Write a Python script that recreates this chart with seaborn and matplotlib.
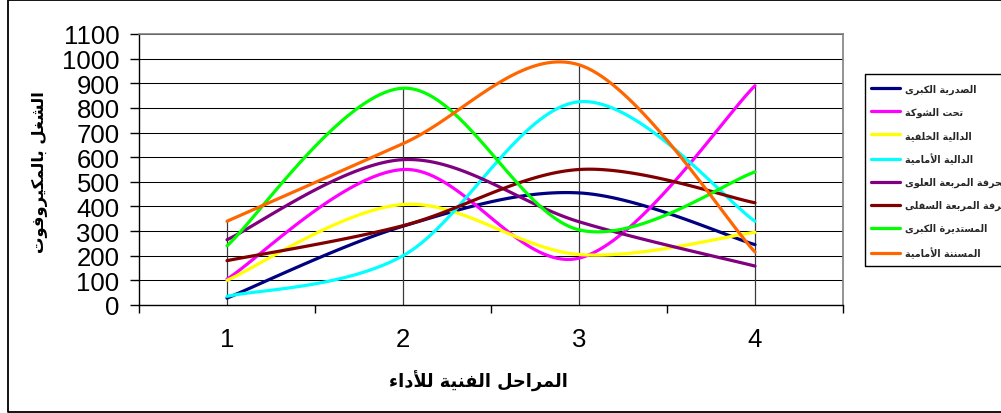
import numpy as np
import pandas as pd
import matplotlib
matplotlib.use("Agg")
import matplotlib.pyplot as plt
import seaborn as sns
from matplotlib.lines import Line2D
from matplotlib.patches import Rectangle

# ---------------- data ----------------
stages = [1, 2, 3, 4]
stage_labels = ["1", "2", "3", "4"]
y_ticks = [0, 100, 200, 300, 400, 500, 600, 700, 800, 900, 1000, 1100]

pectoralis_major = [28, 320, 455, 245]     # الصدرية الكبرى
infraspinatus = [105, 550, 190, 890]       # تحت الشوكة
posterior_deltoid = [100, 408, 205, 295]   # الدالية الخلفية
anterior_deltoid = [35, 200, 825, 340]     # الدالية الأمامية
upper_trapezius = [265, 590, 338, 158]     # المنحرفة المربعة العلوى
lower_trapezius = [180, 322, 550, 415]     # المنحرفة المربعة السفلى
teres_major = [240, 880, 305, 540]         # المستديرة الكبرى
serratus_anterior = [340, 655, 975, 215]   # المسننة الأمامية

series_names = [
    "الصدرية الكبرى",
    "تحت الشوكة",
    "الدالية الخلفية",
    "الدالية الأمامية",
    "المنحرفة المربعة العلوى",
    "المنحرفة المربعة السفلى",
    "المستديرة الكبرى",
    "المسننة الأمامية",
]
series_values = [pectoralis_major, infraspinatus, posterior_deltoid, anterior_deltoid,
                 upper_trapezius, lower_trapezius, teres_major, serratus_anterior]
series_colors = ["#000080", "#FF00FF", "#FFFF00", "#00FFFF",
                 "#800080", "#800000", "#00FF00", "#FF6600"]

x_title = "المراحل الفنية للأداء"
y_title = "الشغل بالمكيروفوت"

# ---------------- Arabic shaping (contextual forms + right-to-left) ----------------
FORMS = {
    '\u0621': ('\uFE80', None, None, None),
    '\u0623': ('\uFE83', '\uFE84', None, None),
    '\u0627': ('\uFE8D', '\uFE8E', None, None),
    '\u0628': ('\uFE8F', '\uFE90', '\uFE91', '\uFE92'),
    '\u0629': ('\uFE93', '\uFE94', None, None),
    '\u062A': ('\uFE95', '\uFE96', '\uFE97', '\uFE98'),
    '\u062D': ('\uFEA1', '\uFEA2', '\uFEA3', '\uFEA4'),
    '\u062E': ('\uFEA5', '\uFEA6', '\uFEA7', '\uFEA8'),
    '\u062F': ('\uFEA9', '\uFEAA', None, None),
    '\u0631': ('\uFEAD', '\uFEAE', None, None),
    '\u0633': ('\uFEB1', '\uFEB2', '\uFEB3', '\uFEB4'),
    '\u0634': ('\uFEB5', '\uFEB6', '\uFEB7', '\uFEB8'),
    '\u0635': ('\uFEB9', '\uFEBA', '\uFEBB', '\uFEBC'),
    '\u0639': ('\uFEC9', '\uFECA', '\uFECB', '\uFECC'),
    '\u063A': ('\uFECD', '\uFECE', '\uFECF', '\uFED0'),
    '\u0641': ('\uFED1', '\uFED2', '\uFED3', '\uFED4'),
    '\u0643': ('\uFED9', '\uFEDA', '\uFEDB', '\uFEDC'),
    '\u0644': ('\uFEDD', '\uFEDE', '\uFEDF', '\uFEE0'),
    '\u0645': ('\uFEE1', '\uFEE2', '\uFEE3', '\uFEE4'),
    '\u0646': ('\uFEE5', '\uFEE6', '\uFEE7', '\uFEE8'),
    '\u0647': ('\uFEE9', '\uFEEA', '\uFEEB', '\uFEEC'),
    '\u0648': ('\uFEED', '\uFEEE', None, None),
    '\u0649': ('\uFEEF', '\uFEF0', None, None),
    '\u064A': ('\uFEF1', '\uFEF2', '\uFEF3', '\uFEF4'),
}
LAM_ALEF = {'\u0627': ('\uFEFB', '\uFEFC'), '\u0623': ('\uFEF7', '\uFEF8')}


def shape_arabic(text):
    tokens = []
    i = 0
    while i < len(text):
        ch = text[i]
        if ch == '\u0644' and i + 1 < len(text) and text[i + 1] in LAM_ALEF:
            tokens.append(('LA', text[i + 1]))
            i += 2
        else:
            tokens.append(('C', ch))
            i += 1

    def joins_forward(tok):
        if tok is None or tok[0] == 'LA':
            return False
        f = FORMS.get(tok[1])
        return f is not None and f[2] is not None

    def joins_backward(tok):
        if tok is None:
            return False
        if tok[0] == 'LA':
            return True
        f = FORMS.get(tok[1])
        return f is not None and f[1] is not None

    out = []
    for k, tok in enumerate(tokens):
        prev = tokens[k - 1] if k > 0 else None
        nxt = tokens[k + 1] if k + 1 < len(tokens) else None
        jp = joins_forward(prev) and joins_backward(tok)
        jn = joins_forward(tok) and joins_backward(nxt)
        if tok[0] == 'LA':
            out.append(LAM_ALEF[tok[1]][1 if jp else 0])
            continue
        f = FORMS.get(tok[1])
        if f is None:
            out.append(tok[1])
        elif jp and jn:
            out.append(f[3])
        elif jp:
            out.append(f[1])
        elif jn:
            out.append(f[2])
        else:
            out.append(f[0])
    return ''.join(reversed(out))


# ---------------- smoothing (Bezier / Catmull-Rom through the points) ----------------
def smooth_curve(xs, ys, steps=40):
    pts = np.column_stack([xs, ys]).astype(float)
    n = len(pts)
    out = []
    for i in range(n - 1):
        p0 = pts[i - 1] if i > 0 else pts[i]
        p1 = pts[i]
        p2 = pts[i + 1]
        p3 = pts[i + 2] if i + 2 < n else pts[i + 1]
        c1 = p1 + (p2 - p0) / 6.0
        c2 = p2 - (p3 - p1) / 6.0
        t = np.linspace(0, 1, steps, endpoint=(i == n - 2))[:, None]
        seg = ((1 - t) ** 3) * p1 + 3 * ((1 - t) ** 2) * t * c1 + 3 * (1 - t) * t ** 2 * c2 + t ** 3 * p2
        out.append(seg)
    out = np.vstack(out)
    return out[:, 0], out[:, 1]


frames = []
for name, vals in zip(series_names, series_values):
    sx, sy = smooth_curve(stages, vals)
    frames.append(pd.DataFrame({"stage": sx, "work": sy, "muscle": name}))
df = pd.concat(frames, ignore_index=True)

# ---------------- figure ----------------
sns.set_theme(style="white")
plt.rcParams["font.family"] = ["Liberation Sans", "DejaVu Sans"]

FIG_W, FIG_H = 1001, 414
fig = plt.figure(figsize=(FIG_W / 100, FIG_H / 100), dpi=100)
ax = fig.add_axes([139 / FIG_W, 108 / FIG_H, 704 / FIG_W, 271 / FIG_H])
ax.set_facecolor("white")

ax.set_xlim(0.5, 4.5)
ax.set_ylim(0, 1100)
ax.set_yticks(y_ticks)
ax.set_yticklabels([str(v) for v in y_ticks])
ax.yaxis.grid(True, color="#000000", linewidth=0.75)
ax.xaxis.grid(False)
ax.set_axisbelow(True)

# drop lines from the top value of every stage down to the axis
tops = np.max(np.array(series_values), axis=0)
ax.vlines(stages, 0, tops, color="#3a3a3a", linewidth=0.9, zorder=1.5)

palette = dict(zip(series_names, series_colors))
sns.lineplot(data=df, x="stage", y="work", hue="muscle", hue_order=series_names,
             palette=palette, units="muscle", estimator=None, sort=False,
             linewidth=2.3, legend=False, ax=ax, zorder=3)

ax.set_xticks(stages)
ax.set_xticklabels(stage_labels)
ax.set_xticks([0.5, 1.5, 2.5, 3.5, 4.5], minor=True)
ax.tick_params(axis="x", which="major", length=0, pad=15.5, labelsize=18.5, colors="black")
ax.tick_params(axis="x", which="minor", bottom=True, length=6, width=1, color="black")
ax.tick_params(axis="y", which="major", left=True, length=6.5, width=1, pad=7.5,
               labelsize=18.5, colors="black")
ax.set_xlabel("")
ax.set_ylabel("")

for side in ["left", "bottom"]:
    ax.spines[side].set_color("black")
    ax.spines[side].set_linewidth(1.0)
for side in ["top", "right"]:
    ax.spines[side].set_color("#808080")
    ax.spines[side].set_linewidth(1.2)

arabic_font = ["DejaVu Sans"]
fig.text(478 / FIG_W, 1 - 381 / FIG_H, shape_arabic(x_title), ha="center", va="center",
         fontsize=12.8, fontweight="bold", family=arabic_font, color="black")
fig.text(40 / FIG_W, 1 - 172 / FIG_H, shape_arabic(y_title), ha="center", va="center",
         rotation=90, fontsize=11.8, fontweight="bold", family=arabic_font, color="black")


def fig_pt(px, py):
    return px / FIG_W, 1 - py / FIG_H


# legend box: open on the right, it runs past the edge of the chart area
fig.patches.append(Rectangle(fig_pt(865, 267), 0.2, 192 / FIG_H, transform=fig.transFigure,
                             facecolor="white", edgecolor="none", zorder=4))
box = [fig_pt(1020, 75), fig_pt(865, 75), fig_pt(865, 267), fig_pt(1020, 267)]
fig.add_artist(Line2D([p[0] for p in box], [p[1] for p in box], transform=fig.transFigure,
                      color="black", linewidth=1.0, zorder=4.5))

handles = [Line2D([0], [0], color=c, linewidth=2.3) for c in series_colors]
labels = [shape_arabic(n) for n in series_names]
leg = fig.legend(handles, labels, loc="upper left",
                 bbox_to_anchor=(861 / FIG_W, 1 - 75 / FIG_H), borderaxespad=0,
                 frameon=False, handlelength=3.1, handletextpad=0.5, borderpad=1.0,
                 labelspacing=1.34,
                 prop={"family": arabic_font, "size": 6.9, "weight": "bold"})
leg.set_zorder(5)

# outer chart border (left, top and bottom edges)
outer = [fig_pt(1020, 1), fig_pt(8, 1), fig_pt(8, 413), fig_pt(1020, 413)]
fig.add_artist(Line2D([p[0] for p in outer], [p[1] for p in outer], transform=fig.transFigure,
                      color="black", linewidth=1.3, zorder=4))

fig.savefig("out.png", dpi=100, facecolor="white")
